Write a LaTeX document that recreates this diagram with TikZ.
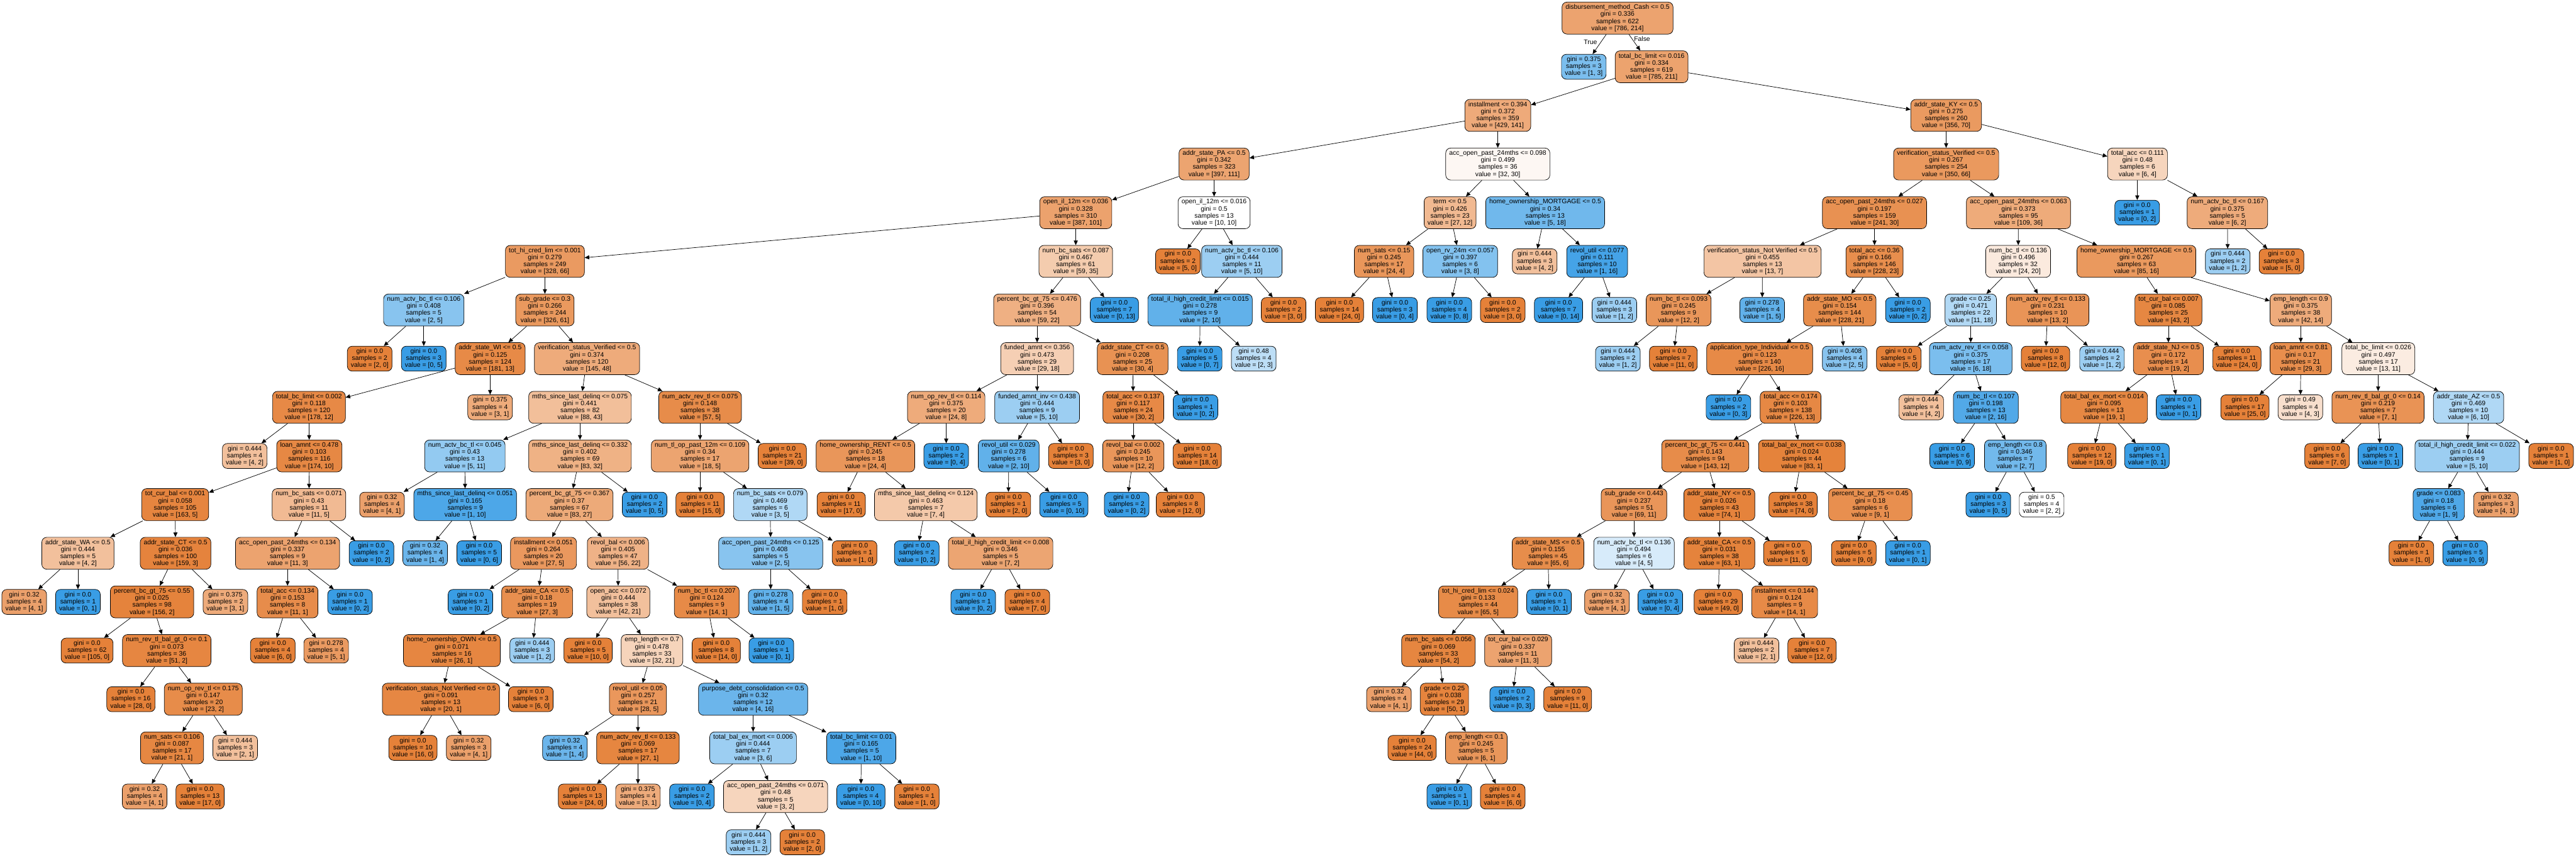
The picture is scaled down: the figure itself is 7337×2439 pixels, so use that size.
\documentclass[tikz,border=0pt]{standalone}
\usepackage{fontspec}
\setmainfont{Liberation Sans}
\usetikzlibrary{arrows.meta}

\definecolor{treeorange}{RGB}{229,129,57}
\definecolor{treeblue}{RGB}{57,157,229}

% fill shade from the two class counts
\tikzset{
  cls/.code 2 args={%
    \ifnum#1<#2\relax
      \pgfmathsetmacro\clsfrac{(#2-#1)/#2*100}%
      \edef\clsdo{\noexpand\pgfkeysalso{fill=treeblue!\clsfrac!white}}%
    \else
      \pgfmathsetmacro\clsfrac{(#1-#2)/#1*100}%
      \edef\clsdo{\noexpand\pgfkeysalso{fill=treeorange!\clsfrac!white}}%
    \fi
    \clsdo}
}

% name, parent, x, level, test, gini, samples, value
\newcommand{\splitnode}[9]{%
  \node [splitbox, cls={#8}{#9}] (#1) at (#3, {51.5+138.5*#4}) {#5\\gini = #6\\samples = #7\\value = [#8, #9]};
  \draw [link] (#2) -- (#1);}
% name, parent, x, level, gini, samples, value
\newcommand{\leafnode}[8]{%
  \node [leafbox, cls={#7}{#8}] (#1) at (#3, {51.5+138.5*#4}) {gini = #5\\samples = #6\\value = [#7, #8]};
  \draw [link] (#2) -- (#1);}

\begin{document}
\begin{tikzpicture}[x=0.1mm, y=-0.1mm,
    treebox/.style={draw, line width=0.13mm, rounded corners=1.4mm, align=center,
      inner xsep=1mm, inner ysep=0.3mm, font=\fontsize{5.3}{5.69}\selectfont},
    splitbox/.style={treebox, minimum height=9.1mm},
    leafbox/.style={treebox, minimum height=7.1mm},
    link/.style={-{Triangle[length=1.3mm, width=1.15mm]}, line width=0.13mm},
    edgelabel/.style={font=\fontsize{5.3}{5.69}\selectfont, inner sep=0pt}]
    \useasboundingbox (0,0) rectangle (7337,2439);

    \node [splitbox, cls={786}{214}] (root) at (4607, 51.5) {disbursement\_method\_Cash <= 0.5\\gini = 0.336\\samples = 622\\value = [786, 214]};
    \node [edgelabel] (lbltrue) at (4530, 120) {True};
    \node [edgelabel] (lblfalse) at (4677, 110) {False};

    % level 1 - 4
    \leafnode{ta}{root}{4511}{1}{0.375}{3}{1}{3}
    \splitnode{tb}{root}{4704}{1}{total\_bc\_limit <= 0.016}{0.334}{619}{785}{211}
    \splitnode{tc}{tb}{4266}{2}{installment <= 0.394}{0.372}{359}{429}{141}
    \splitnode{td}{tb}{5543}{2}{addr\_state\_KY <= 0.5}{0.275}{260}{356}{70}
    \splitnode{te}{tc}{3458}{3}{addr\_state\_PA <= 0.5}{0.342}{323}{397}{111}
    \splitnode{tf}{tc}{4266}{3}{acc\_open\_past\_24mths <= 0.098}{0.499}{36}{32}{30}
    \splitnode{tg}{td}{5543}{3}{verification\_status\_Verified <= 0.5}{0.267}{254}{350}{66}
    \splitnode{th}{td}{6088}{3}{total\_acc <= 0.111}{0.48}{6}{6}{4}
    \splitnode{ti}{te}{3064}{4}{open\_il\_12m <= 0.036}{0.328}{310}{387}{101}
    \splitnode{tj}{te}{3458}{4}{open\_il\_12m <= 0.016}{0.5}{13}{10}{10}
    \splitnode{tk}{tf}{4130}{4}{term <= 0.5}{0.426}{23}{27}{12}
    \splitnode{tl}{tf}{4401}{4}{home\_ownership\_MORTGAGE <= 0.5}{0.34}{13}{5}{18}
    \splitnode{tm}{tg}{5339}{4}{acc\_open\_past\_24mths <= 0.027}{0.197}{159}{241}{30}
    \splitnode{tn}{tg}{5749}{4}{acc\_open\_past\_24mths <= 0.063}{0.373}{95}{109}{36}
    \leafnode{to}{th}{6087}{4}{0.0}{1}{0}{2}
    \splitnode{tp}{th}{6344}{4}{num\_actv\_bc\_tl <= 0.167}{0.375}{5}{6}{2}

    % level 5
    \splitnode{tq}{ti}{1552}{5}{tot\_hi\_cred\_lim <= 0.001}{0.279}{249}{328}{66}
    \splitnode{tr}{ti}{3064}{5}{num\_bc\_sats <= 0.087}{0.467}{61}{59}{35}
    \leafnode{ts}{tj}{3355}{5}{0.0}{2}{5}{0}
    \splitnode{tt}{tj}{3537}{5}{num\_actv\_bc\_tl <= 0.106}{0.444}{11}{5}{10}
    \splitnode{tu}{tk}{3942}{5}{num\_sats <= 0.15}{0.245}{17}{24}{4}
    \splitnode{tv}{tk}{4159}{5}{open\_rv\_24m <= 0.057}{0.397}{6}{3}{8}
    \leafnode{tw}{tl}{4371}{5}{0.444}{3}{4}{2}
    \splitnode{tx}{tl}{4549}{5}{revol\_util <= 0.077}{0.111}{10}{1}{16}
    \splitnode{ty}{tm}{5020}{5}{verification\_status\_Not Verified <= 0.5}{0.455}{13}{13}{7}
    \splitnode{tz}{tm}{5339}{5}{total\_acc <= 0.36}{0.166}{146}{228}{23}
    \splitnode{taa}{tn}{5748}{5}{num\_bc\_tl <= 0.136}{0.496}{32}{24}{20}
    \splitnode{tab}{tn}{6085}{5}{home\_ownership\_MORTGAGE <= 0.5}{0.267}{63}{85}{16}
    \leafnode{tac}{tp}{6345}{5}{0.444}{2}{1}{2}
    \leafnode{tad}{tp}{6498}{5}{0.0}{3}{5}{0}

    % level 6
    \splitnode{tae}{tq}{1207}{6}{num\_actv\_bc\_tl <= 0.106}{0.408}{5}{2}{5}
    \splitnode{taf}{tq}{1552}{6}{sub\_grade <= 0.3}{0.266}{244}{326}{61}
    \splitnode{tag}{tr}{2954}{6}{percent\_bc\_gt\_75 <= 0.476}{0.396}{54}{59}{22}
    \leafnode{tah}{tr}{3174}{6}{0.0}{7}{0}{13}
    \splitnode{tai}{tt}{3418}{6}{total\_il\_high\_credit\_limit <= 0.015}{0.278}{9}{2}{10}
    \leafnode{taj}{tt}{3656}{6}{0.0}{2}{3}{0}
    \leafnode{tak}{tu}{3815}{6}{0.0}{14}{24}{0}
    \leafnode{tal}{tu}{3973}{6}{0.0}{3}{0}{4}
    \leafnode{tam}{tv}{4128}{6}{0.0}{4}{0}{8}
    \leafnode{tan}{tv}{4280}{6}{0.0}{2}{3}{0}
    \leafnode{tao}{tx}{4439}{6}{0.0}{7}{0}{14}
    \leafnode{tap}{tx}{4598}{6}{0.444}{3}{1}{2}
    \splitnode{taq}{ty}{4781}{6}{num\_bc\_tl <= 0.093}{0.245}{9}{12}{2}
    \leafnode{tar}{ty}{5019}{6}{0.278}{4}{1}{5}
    \splitnode{tas}{tz}{5240}{6}{addr\_state\_MO <= 0.5}{0.154}{144}{228}{21}
    \leafnode{tat}{tz}{5434}{6}{0.0}{2}{0}{2}
    \splitnode{tau}{taa}{5613}{6}{grade <= 0.25}{0.471}{22}{11}{18}
    \splitnode{tav}{taa}{5832}{6}{num\_actv\_rev\_tl <= 0.133}{0.231}{10}{13}{2}
    \splitnode{taw}{tab}{6176}{6}{tot\_cur\_bal <= 0.007}{0.085}{25}{43}{2}
    \splitnode{tax}{tab}{6553}{6}{emp\_length <= 0.9}{0.375}{38}{42}{14}

    % level 7
    \leafnode{tay}{tae}{1053}{7}{0.0}{2}{2}{0}
    \leafnode{taz}{tae}{1207}{7}{0.0}{3}{0}{5}
    \splitnode{tba}{taf}{1396}{7}{addr\_state\_WI <= 0.5}{0.125}{124}{181}{13}
    \splitnode{tbb}{taf}{1672}{7}{verification\_status\_Verified <= 0.5}{0.374}{120}{145}{48}
    \splitnode{tbc}{tag}{2954}{7}{funded\_amnt <= 0.356}{0.473}{29}{29}{18}
    \splitnode{tbd}{tag}{3226}{7}{addr\_state\_CT <= 0.5}{0.208}{25}{30}{4}
    \leafnode{tbe}{tai}{3417}{7}{0.0}{5}{0}{7}
    \leafnode{tbf}{tai}{3571}{7}{0.48}{4}{2}{3}
    \leafnode{tbg}{taq}{4608}{7}{0.444}{2}{1}{2}
    \leafnode{tbh}{taq}{4766}{7}{0.0}{7}{11}{0}
    \splitnode{tbi}{tas}{5012}{7}{application\_type\_Individual <= 0.5}{0.123}{140}{226}{16}
    \leafnode{tbj}{tas}{5254}{7}{0.408}{4}{2}{5}
    \leafnode{tbk}{tau}{5408}{7}{0.0}{5}{5}{0}
    \splitnode{tbl}{tau}{5613}{7}{num\_actv\_rev\_tl <= 0.058}{0.375}{17}{6}{18}
    \leafnode{tbm}{tav}{5826}{7}{0.0}{8}{12}{0}
    \leafnode{tbn}{tav}{5987}{7}{0.444}{2}{1}{2}
    \splitnode{tbo}{taw}{6176}{7}{addr\_state\_NJ <= 0.5}{0.172}{14}{19}{2}
    \leafnode{tbp}{taw}{6371}{7}{0.0}{11}{24}{0}
    \splitnode{tbq}{tax}{6553}{7}{loan\_amnt <= 0.81}{0.17}{21}{29}{3}
    \splitnode{tbr}{tax}{6774}{7}{total\_bc\_limit <= 0.026}{0.497}{17}{13}{11}

    % level 8
    \splitnode{tbs}{tba}{880}{8}{total\_bc\_limit <= 0.002}{0.118}{120}{178}{12}
    \leafnode{tbt}{tba}{1396}{8}{0.375}{4}{3}{1}
    \splitnode{tbu}{tbb}{1652}{8}{mths\_since\_last\_delinq <= 0.075}{0.441}{82}{88}{43}
    \splitnode{tbv}{tbb}{1994}{8}{num\_actv\_rev\_tl <= 0.075}{0.148}{38}{57}{5}
    \splitnode{tbw}{tbc}{2695}{8}{num\_op\_rev\_tl <= 0.114}{0.375}{20}{24}{8}
    \splitnode{tbx}{tbc}{2954}{8}{funded\_amnt\_inv <= 0.438}{0.444}{9}{5}{10}
    \splitnode{tby}{tbd}{3228}{8}{total\_acc <= 0.137}{0.117}{24}{30}{2}
    \leafnode{tbz}{tbd}{3405}{8}{0.0}{1}{0}{2}
    \leafnode{tca}{tbi}{4923}{8}{0.0}{2}{0}{3}
    \splitnode{tcb}{tbi}{5100}{8}{total\_acc <= 0.174}{0.103}{138}{226}{13}
    \leafnode{tcc}{tbl}{5472}{8}{0.444}{4}{4}{2}
    \splitnode{tcd}{tbl}{5656}{8}{num\_bc\_tl <= 0.107}{0.198}{13}{2}{16}
    \splitnode{tce}{tbo}{5993}{8}{total\_bal\_ex\_mort <= 0.014}{0.095}{13}{19}{1}
    \leafnode{tcf}{tbo}{6205}{8}{0.0}{1}{0}{1}
    \leafnode{tcg}{tbq}{6394}{8}{0.0}{17}{25}{0}
    \leafnode{tch}{tbq}{6552}{8}{0.49}{4}{4}{3}
    \splitnode{tci}{tbr}{6773}{8}{num\_rev\_tl\_bal\_gt\_0 <= 0.14}{0.219}{7}{7}{1}
    \splitnode{tcj}{tbr}{7031}{8}{addr\_state\_AZ <= 0.5}{0.469}{10}{6}{10}

    % level 9
    \leafnode{tck}{tbs}{697}{9}{0.444}{4}{4}{2}
    \splitnode{tcl}{tbs}{881}{9}{loan\_amnt <= 0.478}{0.103}{116}{174}{10}
    \splitnode{tcm}{tbu}{1324}{9}{num\_actv\_bc\_tl <= 0.045}{0.43}{13}{5}{11}
    \splitnode{tcn}{tbu}{1652}{9}{mths\_since\_last\_delinq <= 0.332}{0.402}{69}{83}{32}
    \splitnode{tco}{tbv}{1994}{9}{num\_tl\_op\_past\_12m <= 0.109}{0.34}{17}{18}{5}
    \leafnode{tcp}{tbv}{2228}{9}{0.0}{21}{39}{0}
    \splitnode{tcq}{tbw}{2465}{9}{home\_ownership\_RENT <= 0.5}{0.245}{18}{24}{4}
    \leafnode{tcr}{tbw}{2695}{9}{0.0}{2}{0}{4}
    \splitnode{tcs}{tbx}{2873}{9}{revol\_util <= 0.029}{0.278}{6}{2}{10}
    \leafnode{tct}{tbx}{3050}{9}{0.0}{3}{3}{0}
    \splitnode{tcu}{tby}{3228}{9}{revol\_bal <= 0.002}{0.245}{10}{12}{2}
    \leafnode{tcv}{tby}{3410}{9}{0.0}{14}{18}{0}
    \splitnode{tcw}{tcb}{4857}{9}{percent\_bc\_gt\_75 <= 0.441}{0.143}{94}{143}{12}
    \splitnode{tcx}{tcb}{5132}{9}{total\_bal\_ex\_mort <= 0.038}{0.024}{44}{83}{1}
    \leafnode{tcy}{tcd}{5560}{9}{0.0}{6}{0}{9}
    \splitnode{tcz}{tcd}{5740}{9}{emp\_length <= 0.8}{0.346}{7}{2}{7}
    \leafnode{tda}{tce}{5958}{9}{0.0}{12}{19}{0}
    \leafnode{tdb}{tce}{6115}{9}{0.0}{1}{0}{1}
    \leafnode{tdc}{tci}{6628}{9}{0.0}{6}{7}{0}
    \leafnode{tdd}{tci}{6780}{9}{0.0}{1}{0}{1}
    \splitnode{tde}{tcj}{7027}{9}{total\_il\_high\_credit\_limit <= 0.022}{0.444}{9}{5}{10}
    \leafnode{tdf}{tcj}{7266}{9}{0.0}{1}{1}{0}

    % level 10
    \splitnode{tdg}{tcl}{499}{10}{tot\_cur\_bal <= 0.001}{0.058}{105}{163}{5}
    \splitnode{tdh}{tcl}{880}{10}{num\_bc\_sats <= 0.071}{0.43}{11}{11}{5}
    \leafnode{tdi}{tcm}{1088}{10}{0.32}{4}{4}{1}
    \splitnode{tdj}{tcm}{1325}{10}{mths\_since\_last\_delinq <= 0.051}{0.165}{9}{1}{10}
    \splitnode{tdk}{tcn}{1622}{10}{percent\_bc\_gt\_75 <= 0.367}{0.37}{67}{83}{27}
    \leafnode{tdl}{tcn}{1836}{10}{0.0}{2}{0}{5}
    \leafnode{tdm}{tco}{1994}{10}{0.0}{11}{15}{0}
    \splitnode{tdn}{tco}{2194}{10}{num\_bc\_sats <= 0.079}{0.469}{6}{3}{5}
    \leafnode{tdo}{tcq}{2396}{10}{0.0}{11}{17}{0}
    \splitnode{tdp}{tcq}{2637}{10}{mths\_since\_last\_delinq <= 0.124}{0.463}{7}{7}{4}
    \leafnode{tdq}{tcs}{2872}{10}{0.0}{1}{2}{0}
    \leafnode{tdr}{tcs}{3030}{10}{0.0}{5}{0}{10}
    \leafnode{tds}{tcu}{3209}{10}{0.0}{2}{0}{2}
    \leafnode{tdt}{tcu}{3362}{10}{0.0}{8}{12}{0}
    \splitnode{tdu}{tcw}{4654}{10}{sub\_grade <= 0.443}{0.237}{51}{69}{11}
    \splitnode{tdv}{tcw}{4897}{10}{addr\_state\_NY <= 0.5}{0.026}{43}{74}{1}
    \leafnode{tdw}{tcx}{5107}{10}{0.0}{38}{74}{0}
    \splitnode{tdx}{tcx}{5327}{10}{percent\_bc\_gt\_75 <= 0.45}{0.18}{6}{9}{1}
    \leafnode{tdy}{tcz}{5663}{10}{0.0}{3}{0}{5}
    \leafnode{tdz}{tcz}{5815}{10}{0.5}{4}{2}{2}
    \splitnode{tea}{tde}{6946}{10}{grade <= 0.083}{0.18}{6}{1}{9}
    \leafnode{teb}{tde}{7109}{10}{0.32}{3}{4}{1}

    % level 11
    \splitnode{tec}{tdg}{222}{11}{addr\_state\_WA <= 0.5}{0.444}{5}{4}{2}
    \splitnode{ted}{tdg}{500}{11}{addr\_state\_CT <= 0.5}{0.036}{100}{159}{3}
    \splitnode{tee}{tdh}{819}{11}{acc\_open\_past\_24mths <= 0.134}{0.337}{9}{11}{3}
    \leafnode{tef}{tdh}{1058}{11}{0.0}{2}{0}{2}
    \leafnode{teg}{tdj}{1211}{11}{0.32}{4}{1}{4}
    \leafnode{teh}{tdj}{1365}{11}{0.0}{5}{0}{6}
    \splitnode{tei}{tdk}{1548}{11}{installment <= 0.051}{0.264}{20}{27}{5}
    \splitnode{tej}{tdk}{1760}{11}{revol\_bal <= 0.006}{0.405}{47}{56}{22}
    \splitnode{tek}{tdn}{2195}{11}{acc\_open\_past\_24mths <= 0.125}{0.408}{5}{2}{5}
    \leafnode{tel}{tdn}{2434}{11}{0.0}{1}{1}{0}
    \leafnode{tem}{tdp}{2611}{11}{0.0}{2}{0}{2}
    \splitnode{ten}{tdp}{2850}{11}{total\_il\_high\_credit\_limit <= 0.008}{0.346}{5}{7}{2}
    \splitnode{teo}{tdu}{4409}{11}{addr\_state\_MS <= 0.5}{0.155}{45}{65}{6}
    \splitnode{tep}{tdu}{4654}{11}{num\_actv\_bc\_tl <= 0.136}{0.494}{6}{4}{5}
    \splitnode{teq}{tdv}{4897}{11}{addr\_state\_CA <= 0.5}{0.031}{38}{63}{1}
    \leafnode{ter}{tdv}{5091}{11}{0.0}{5}{11}{0}
    \leafnode{tes}{tdx}{5280}{11}{0.0}{5}{9}{0}
    \leafnode{tet}{tdx}{5434}{11}{0.0}{1}{0}{1}
    \leafnode{teu}{tea}{6868}{11}{0.0}{1}{1}{0}
    \leafnode{tev}{tea}{7021}{11}{0.0}{5}{0}{9}

    % level 12
    \leafnode{tew}{tec}{69}{12}{0.32}{4}{4}{1}
    \leafnode{tex}{tec}{222}{12}{0.0}{1}{0}{1}
    \splitnode{tey}{ted}{433}{12}{percent\_bc\_gt\_75 <= 0.55}{0.025}{98}{156}{2}
    \leafnode{tez}{ted}{642}{12}{0.375}{2}{3}{1}
    \splitnode{tfa}{tee}{819}{12}{total\_acc <= 0.134}{0.153}{8}{11}{1}
    \leafnode{tfb}{tee}{997}{12}{0.0}{1}{0}{2}
    \leafnode{tfc}{tei}{1340}{12}{0.0}{1}{0}{2}
    \splitnode{tfd}{tei}{1530}{12}{addr\_state\_CA <= 0.5}{0.18}{19}{27}{3}
    \splitnode{tfe}{tej}{1761}{12}{open\_acc <= 0.072}{0.444}{38}{42}{21}
    \splitnode{tff}{tej}{2013}{12}{num\_bc\_tl <= 0.207}{0.124}{9}{14}{1}
    \leafnode{tfg}{tek}{2195}{12}{0.278}{4}{1}{5}
    \leafnode{tfh}{tek}{2349}{12}{0.0}{1}{1}{0}
    \leafnode{tfi}{ten}{2772}{12}{0.0}{1}{0}{2}
    \leafnode{tfj}{ten}{2926}{12}{0.0}{4}{7}{0}
    \splitnode{tfk}{teo}{4210}{12}{tot\_hi\_cred\_lim <= 0.024}{0.133}{44}{65}{5}
    \leafnode{tfl}{teo}{4412}{12}{0.0}{1}{0}{1}
    \leafnode{tfm}{tep}{4577}{12}{0.32}{3}{4}{1}
    \leafnode{tfn}{tep}{4729}{12}{0.0}{3}{0}{4}
    \leafnode{tfo}{teq}{4894}{12}{0.0}{29}{49}{0}
    \splitnode{tfp}{teq}{5083}{12}{installment <= 0.144}{0.124}{9}{14}{1}

    % level 13
    \leafnode{tfq}{tey}{248}{13}{0.0}{62}{105}{0}
    \splitnode{tfr}{tey}{475}{13}{num\_rev\_tl\_bal\_gt\_0 <= 0.1}{0.073}{36}{51}{2}
    \leafnode{tfs}{tfa}{777}{13}{0.0}{4}{6}{0}
    \leafnode{tft}{tfa}{929}{13}{0.278}{4}{5}{1}
    \splitnode{tfu}{tfd}{1287}{13}{home\_ownership\_OWN <= 0.5}{0.071}{16}{26}{1}
    \leafnode{tfv}{tfd}{1516}{13}{0.444}{3}{1}{2}
    \leafnode{tfw}{tfe}{1675}{13}{0.0}{5}{10}{0}
    \splitnode{tfx}{tfe}{1857}{13}{emp\_length <= 0.7}{0.478}{33}{32}{21}
    \leafnode{tfy}{tff}{2040}{13}{0.0}{8}{14}{0}
    \leafnode{tfz}{tff}{2197}{13}{0.0}{1}{0}{1}
    \splitnode{tga}{tfk}{4097}{13}{num\_bc\_sats <= 0.056}{0.069}{33}{54}{2}
    \splitnode{tgb}{tfk}{4324}{13}{tot\_cur\_bal <= 0.029}{0.337}{11}{11}{3}
    \leafnode{tgc}{tfp}{5003}{13}{0.444}{2}{2}{1}
    \leafnode{tgd}{tfp}{5161}{13}{0.0}{7}{12}{0}

    % level 14 - 17
    \leafnode{tge}{tfr}{373}{14}{0.0}{16}{28}{0}
    \splitnode{tgf}{tfr}{579}{14}{num\_op\_rev\_tl <= 0.175}{0.147}{20}{23}{2}
    \splitnode{tgg}{tfu}{1256}{14}{verification\_status\_Not Verified <= 0.5}{0.091}{13}{20}{1}
    \leafnode{tgh}{tfu}{1512}{14}{0.0}{3}{6}{0}
    \splitnode{tgi}{tfx}{1817}{14}{revol\_util <= 0.05}{0.257}{21}{28}{5}
    \splitnode{tgj}{tfx}{2145}{14}{purpose\_debt\_consolidation <= 0.5}{0.32}{12}{4}{16}
    \leafnode{tgk}{tga}{3956}{14}{0.32}{4}{4}{1}
    \splitnode{tgl}{tga}{4114}{14}{grade <= 0.25}{0.038}{29}{50}{1}
    \leafnode{tgm}{tgb}{4307}{14}{0.0}{2}{0}{3}
    \leafnode{tgn}{tgb}{4465}{14}{0.0}{9}{11}{0}
    \splitnode{tgo}{tgf}{490}{15}{num\_sats <= 0.106}{0.087}{17}{21}{1}
    \leafnode{tgp}{tgf}{670}{15}{0.444}{3}{2}{1}
    \leafnode{tgq}{tgg}{1176}{15}{0.0}{10}{16}{0}
    \leafnode{tgr}{tgg}{1335}{15}{0.32}{3}{4}{1}
    \leafnode{tgs}{tgi}{1609}{15}{0.32}{4}{1}{4}
    \splitnode{tgt}{tgi}{1817}{15}{num\_actv\_rev\_tl <= 0.133}{0.069}{17}{27}{1}
    \splitnode{tgu}{tgj}{2145}{15}{total\_bal\_ex\_mort <= 0.006}{0.444}{7}{3}{6}
    \splitnode{tgv}{tgj}{2453}{15}{total\_bc\_limit <= 0.01}{0.165}{5}{1}{10}
    \leafnode{tgw}{tgl}{4022}{15}{0.0}{24}{44}{0}
    \splitnode{tgx}{tgl}{4205}{15}{emp\_length <= 0.1}{0.245}{5}{6}{1}
    \leafnode{tgy}{tgo}{412}{16}{0.32}{4}{4}{1}
    \leafnode{tgz}{tgo}{570}{16}{0.0}{13}{17}{0}
    \leafnode{tha}{tgt}{1659}{16}{0.0}{13}{24}{0}
    \leafnode{thb}{tgt}{1817}{16}{0.375}{4}{3}{1}
    \leafnode{thc}{tgu}{1971}{16}{0.0}{2}{0}{4}
    \splitnode{thd}{tgu}{2209}{16}{acc\_open\_past\_24mths <= 0.071}{0.48}{5}{3}{2}
    \leafnode{the}{tgv}{2452}{16}{0.0}{4}{0}{10}
    \leafnode{thf}{tgv}{2611}{16}{0.0}{1}{1}{0}
    \leafnode{thg}{tgx}{4128}{16}{0.0}{1}{0}{1}
    \leafnode{thh}{tgx}{4280}{16}{0.0}{4}{6}{0}
    % last rank holds leaves only, so it sits a little closer
    \leafnode{thi}{thd}{2132}{16.94}{0.444}{3}{1}{2}
    \leafnode{thj}{thd}{2285}{16.94}{0.0}{2}{2}{0}
\end{tikzpicture}
\end{document}
